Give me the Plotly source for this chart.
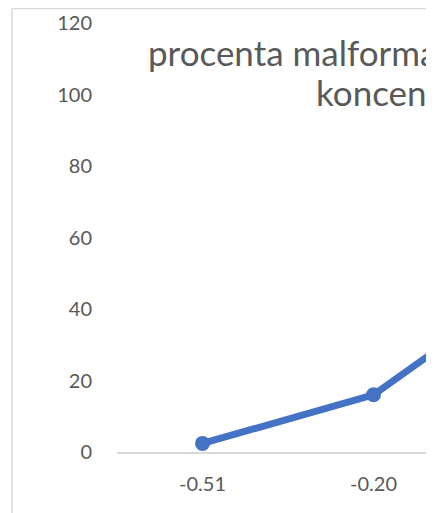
import plotly.graph_objects as go

concentrations = ["-0.51", "-0.20", "0.10"]
malformation_pct = [2.4, 16.0, 50.0]
y_ticks = [0, 20, 40, 60, 80, 100, 120]

title_line1 = "procenta malformací v závislosti na"
title_line2 = "koncentraci"

font_family = "Lato, 'Open Sans', sans-serif"
text_color = "#595959"
border_color = "#d9d9d9"

# the page body adds an 8 px margin, so the figure is drawn 8 px in
OFF = 8
W, H = 426 - OFF, 513 - OFF
left, right, top, bottom = 117 - OFF, 426 - OFF, 23 - OFF, 452 - OFF


def px_x(x):
    return (x - OFF - left) / (right - left)


def px_y(y):
    return (bottom - (y - OFF)) / (bottom - top)


fig = go.Figure()
fig.add_trace(
    go.Scatter(
        x=concentrations,
        y=malformation_pct,
        mode="lines+markers",
        line=dict(color="#4472C4", width=7),
        marker=dict(color="#4472C4", size=15),
        showlegend=False,
    )
)

# category width ~171 px, only part of the chart is visible
fig.update_xaxes(
    type="category",
    range=[-0.5, -0.5 + (right - left) / 171],
    showgrid=False,
    zeroline=False,
    showline=True,
    linecolor=border_color,
    linewidth=1.5,
    tickfont=dict(family=font_family, size=20, color=text_color),
    ticks="",
    ticklabelstandoff=13,
)
fig.update_yaxes(
    range=[0, 120],
    tickvals=y_ticks,
    showgrid=False,
    zeroline=False,
    showline=False,
    tickfont=dict(family=font_family, size=20, color=text_color),
    ticks="",
    ticklabelstandoff=24,
)

# chart border (left and top edges only)
fig.add_shape(type="line", xref="paper", yref="paper",
              x0=px_x(12), x1=px_x(12), y0=px_y(530), y1=px_y(8.5),
              line=dict(color=border_color, width=1.5))
fig.add_shape(type="line", xref="paper", yref="paper",
              x0=px_x(12), x1=px_x(440), y0=px_y(8.5), y1=px_y(8.5),
              line=dict(color=border_color, width=1.5))

fig.add_annotation(text=title_line1, xref="paper", yref="paper",
                   x=px_x(146), y=px_y(52), xanchor="left", yanchor="middle",
                   showarrow=False,
                   font=dict(family=font_family, size=35, color=text_color))
fig.add_annotation(text=title_line2, xref="paper", yref="paper",
                   x=px_x(314), y=px_y(92), xanchor="left", yanchor="middle",
                   showarrow=False,
                   font=dict(family=font_family, size=35, color=text_color))

fig.update_layout(
    width=W,
    height=H,
    margin=dict(l=left, r=W - right, t=top, b=H - bottom),
    plot_bgcolor="white",
    paper_bgcolor="white",
)

fig.write_html("out.html")
